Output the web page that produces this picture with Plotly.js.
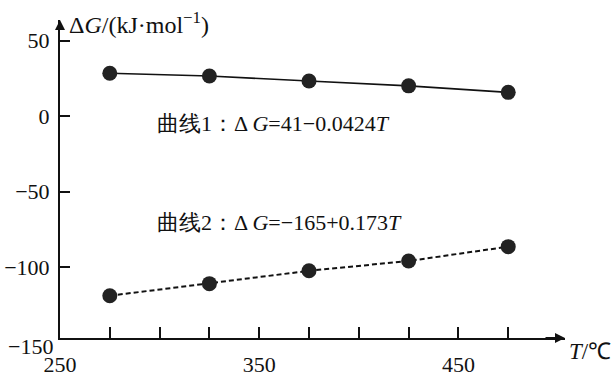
<!DOCTYPE html>
<html>
<head>
<meta charset="utf-8">
<script src="https://cdn.plot.ly/plotly-3.0.1.min.js"></script>
<style>
html,body{margin:0;padding:0;background:#fff;}
#chart{width:614px;height:378px;}
</style>
</head>
<body>
<div id="chart"></div>
<script>
// Data
var temperatures = [275, 325, 375, 425, 475];           // T / °C
var curve1 = [28.3, 26.5, 23.2, 20.0, 15.7];            // ΔG, curve 1 (solid)
var curve2 = [-119, -111, -102.5, -96, -86.5];          // ΔG, curve 2 (dashed)
var xTickVals = [250, 275, 300, 325, 350, 375, 400, 425, 450, 475];
var xTickText = ['250', '', '', '', '350', '', '', '', '450', ''];
var yTickVals = [50, 0, -50, -100];
var yTickText = ['50', '0', '\u221250', '\u2212100'];
var yBottomLabel = '\u2212150';
var yTitle = '\u0394<i>G</i>/(kJ\u00b7mol<sup>\u22121</sup>)';
var xTitle = '<i>T</i>/\u2103';
var label1 = '\u66f2\u7ebf1\uff1a\u0394 <i>G</i>=41\u22120.0424<i>T</i>';
var label2 = '\u66f2\u7ebf2\uff1a\u0394 <i>G</i>=\u2212165+0.173<i>T</i>';

var FONT = 'Liberation Serif';

var traces = [
  {
    x: temperatures, y: curve1, type: 'scatter', mode: 'lines+markers',
    line: {color: '#111', width: 1.6},
    marker: {color: '#222', size: 15, line: {width: 0}},
    hoverinfo: 'skip'
  },
  {
    x: temperatures, y: curve2, type: 'scatter', mode: 'lines+markers',
    line: {color: '#111', width: 2, dash: '5px,3px'},
    marker: {color: '#222', size: 15, line: {width: 0}},
    hoverinfo: 'skip'
  }
];

var layout = {
  width: 614, height: 378,
  margin: {l: 60, r: 49, t: 20, b: 40},
  paper_bgcolor: '#fff', plot_bgcolor: '#fff',
  showlegend: false,
  font: {family: FONT, size: 22, color: '#111'},
  xaxis: {
    range: [250, 503.5],
    showgrid: false, zeroline: false,
    showline: true, linecolor: '#111', linewidth: 2,
    ticks: 'inside', ticklen: 11, tickwidth: 2, tickcolor: '#111',
    tickmode: 'array', tickvals: xTickVals, ticktext: xTickText,
    ticklabelstandoff: 6,
    tickfont: {family: FONT, size: 22, color: '#111'}
  },
  yaxis: {
    range: [-147, 63.6],
    showgrid: false, zeroline: false,
    showline: true, linecolor: '#111', linewidth: 2,
    ticks: 'inside', ticklen: 10, tickwidth: 2, tickcolor: '#111',
    tickmode: 'array', tickvals: yTickVals, ticktext: yTickText,
    ticklabelstandoff: 4,
    tickfont: {family: FONT, size: 22, color: '#111'}
  },
  annotations: [
    {xref: 'paper', yref: 'paper', x: 0, y: 1.0, ax: 0, ay: 24,
     showarrow: true, arrowhead: 2, arrowsize: 1, arrowwidth: 2, arrowcolor: '#111', text: ' ', standoff: 0},
    {xref: 'paper', yref: 'paper', x: 1.0, y: 0, ax: -24, ay: 0,
     showarrow: true, arrowhead: 2, arrowsize: 1, arrowwidth: 2, arrowcolor: '#111', text: ' ', standoff: 0},
    {xref: 'paper', yref: 'paper', x: 0.014, y: 0.99, xanchor: 'left', yanchor: 'middle',
     showarrow: false, text: yTitle, font: {family: FONT, size: 24, color: '#111'}},
    {xref: 'paper', yref: 'paper', x: 1.004, y: -0.044, xanchor: 'left', yanchor: 'middle',
     showarrow: false, text: xTitle, font: {family: FONT, size: 23, color: '#111'}},
    {xref: 'paper', yref: 'paper', x: -0.01, y: -0.028, xanchor: 'right', yanchor: 'middle',
     showarrow: false, text: yBottomLabel, font: {family: FONT, size: 22, color: '#111'}},
    {xref: 'paper', yref: 'paper', x: 0.188, y: 0.676, xanchor: 'left', yanchor: 'middle',
     showarrow: false, text: label1, font: {family: FONT, size: 22, color: '#111'}},
    {xref: 'paper', yref: 'paper', x: 0.188, y: 0.362, xanchor: 'left', yanchor: 'middle',
     showarrow: false, text: label2, font: {family: FONT, size: 22, color: '#111'}}
  ]
};

Plotly.newPlot('chart', traces, layout, {displayModeBar: false, staticPlot: true});
</script>
</body>
</html>
